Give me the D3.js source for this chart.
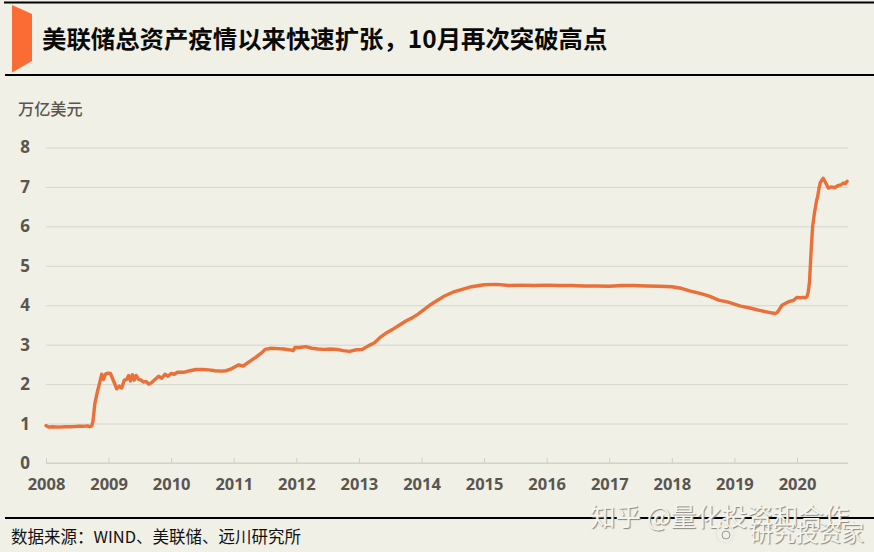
<!DOCTYPE html>
<html><head><meta charset="utf-8">
<script src="https://cdnjs.cloudflare.com/ajax/libs/d3/7.8.5/d3.min.js"></script>
<style>html,body{margin:0;padding:0;background:#f1f0e6;overflow:hidden}svg{display:block}text{font-family:"Noto Sans CJK SC","Noto Sans",sans-serif}.wm{fill:#f5f5f0;text-shadow:1px 1px 1px #85857f}</style>
</head><body><svg id="c" width="874" height="552"></svg>
<script>
const yearTicks=[2008,2009,2010,2011,2012,2013,2014,2015,2016,2017,2018,2019,2020];
const valueTicks=[0,1,2,3,4,5,6,7,8];
const titleText="美联储总资产疫情以来快速扩张，10月再次突破高点";
const unitText="万亿美元";
const sourceText="数据来源：WIND、美联储、远川研究所";
const times=[2008,2008.04,2008.1,2008.2,2008.3,2008.4,2008.5,2008.6,2008.66,2008.7,2008.73,2008.75,2008.78,2008.82,2008.86,2008.89,2008.92,2008.95,2008.98,2009.03,2009.08,2009.13,2009.17,2009.21,2009.25,2009.29,2009.32,2009.35,2009.38,2009.41,2009.44,2009.48,2009.52,2009.56,2009.6,2009.64,2009.68,2009.75,2009.8,2009.85,2009.9,2009.95,2010,2010.05,2010.1,2010.2,2010.3,2010.4,2010.5,2010.6,2010.7,2010.8,2010.88,2010.95,2011.02,2011.08,2011.15,2011.25,2011.35,2011.45,2011.5,2011.6,2011.7,2011.8,2011.9,2011.95,2011.98,2012.05,2012.15,2012.25,2012.35,2012.45,2012.55,2012.65,2012.75,2012.85,2012.95,2013.05,2013.15,2013.25,2013.35,2013.45,2013.55,2013.65,2013.75,2013.85,2013.95,2014.05,2014.15,2014.25,2014.35,2014.5,2014.65,2014.8,2015,2015.2,2015.4,2015.6,2015.8,2016,2016.2,2016.4,2016.6,2016.8,2017,2017.2,2017.4,2017.6,2017.8,2018,2018.15,2018.3,2018.45,2018.6,2018.75,2018.9,2019,2019.1,2019.25,2019.4,2019.55,2019.65,2019.68,2019.72,2019.76,2019.82,2019.88,2019.94,2020,2020.05,2020.1,2020.13,2020.16,2020.18,2020.2,2020.21,2020.23,2020.25,2020.28,2020.315,2020.33,2020.35,2020.37,2020.4,2020.42,2020.46,2020.5,2020.55,2020.6,2020.65,2020.7,2020.74,2020.77,2020.8];
const assets=[0.95,0.91,0.92,0.91,0.92,0.92,0.93,0.93,0.94,0.92,0.94,1.05,1.5,1.8,2.05,2.25,2.12,2.25,2.28,2.27,2.08,1.88,1.95,1.9,2.1,2.12,2.22,2.08,2.24,2.1,2.22,2.12,2.1,2.05,2.07,2.0,2.03,2.13,2.2,2.15,2.25,2.2,2.27,2.25,2.3,2.3,2.34,2.37,2.37,2.36,2.34,2.33,2.34,2.38,2.44,2.49,2.46,2.57,2.68,2.8,2.88,2.91,2.9,2.89,2.87,2.85,2.93,2.93,2.95,2.91,2.89,2.88,2.89,2.88,2.85,2.83,2.87,2.88,2.97,3.05,3.2,3.31,3.4,3.5,3.6,3.68,3.78,3.9,4.02,4.12,4.22,4.33,4.4,4.47,4.52,4.53,4.5,4.51,4.5,4.51,4.5,4.5,4.49,4.49,4.48,4.5,4.5,4.49,4.48,4.47,4.43,4.36,4.3,4.23,4.13,4.08,4.03,3.98,3.93,3.87,3.82,3.79,3.81,3.9,4.0,4.05,4.1,4.12,4.2,4.19,4.2,4.19,4.22,4.34,4.6,4.9,5.5,6.0,6.35,6.67,6.75,6.95,7.1,7.18,7.22,7.1,6.97,7.0,6.98,7.03,7.05,7.1,7.08,7.14,7.2];

const svg=d3.select("#c");
const x=d3.scaleLinear().domain([2008,2020]).range([46,797]);
const y=d3.scaleLinear().domain([0,8]).range([463,147.5]);
const ink="#595650";

svg.append("path").attr("d","M12 5L32 14V61L12 72.5Z").attr("fill","#fb6c34");
svg.append("line").attr("x1",4).attr("x2",874).attr("y1",2.5).attr("y2",2.5).attr("stroke","#000").attr("stroke-width",2);
svg.append("line").attr("x1",5).attr("x2",874).attr("y1",75).attr("y2",75).attr("stroke","#000").attr("stroke-width",2);
svg.append("line").attr("x1",5).attr("x2",874).attr("y1",518).attr("y2",518).attr("stroke","#000").attr("stroke-width",2);
svg.append("text").attr("x",42).attr("y",47.5).attr("font-size",24.4).attr("font-weight",700).attr("fill","#0a0a0a").text(titleText);
svg.append("text").attr("x",18).attr("y",115).attr("font-size",16.2).attr("font-weight",500).attr("fill",ink).text(unitText);
svg.append("text").attr("x",11).attr("y",543).attr("font-size",16.5).attr("fill","#111").text(sourceText);

const yAxis=d3.axisLeft(y).tickValues(valueTicks).tickSize(0).tickPadding(0).tickFormat(d3.format("d"));
const gy=svg.append("g").attr("transform","translate(46,0)").call(yAxis);
gy.select(".domain").remove();
gy.selectAll(".tick line").attr("x2",802).attr("stroke","#d6d6ce").attr("stroke-width",1);
gy.selectAll(".tick text").attr("x",-16).attr("font-size",17).attr("font-weight",700).attr("fill",ink).style("font-family","'Open Sans',sans-serif");

const xAxis=d3.axisBottom(x).tickValues(yearTicks).tickSize(5).tickPadding(10).tickFormat(d3.format("d"));
const gx=svg.append("g").attr("transform","translate(0,463)").call(xAxis);
gx.select(".domain").attr("d","M46 0H848").attr("stroke","#cfcfc7");
gx.selectAll(".tick line").attr("y1",0).attr("y2",-5).attr("stroke","#cfcfc7");
gx.selectAll(".tick text").attr("font-size",16.5).attr("font-weight",700).attr("fill",ink).style("font-family","'Open Sans',sans-serif");

const line=d3.line().x((d,i)=>x(times[i])).y(d=>y(d));
svg.append("path").attr("d",line(assets)).attr("fill","none").attr("stroke","#ea6f38").attr("stroke-width",3.4).attr("stroke-linejoin","round").attr("stroke-linecap","round");

// watermark
function mark(t,px,py,fs){
  svg.append("text").attr("class","wm").attr("font-size",fs).attr("x",px).attr("y",py).text(t);
}
mark("知乎 @量化投资和合作",590,526,25.5);
mark("研究投资家",750,541,22.8);
svg.append("circle").attr("cx",725).attr("cy",534).attr("r",9).attr("fill","none").attr("stroke","#e9e9e3").attr("stroke-width",2);
svg.append("circle").attr("cx",726).attr("cy",535).attr("r",4).attr("fill","none").attr("stroke","#9a9a94").attr("stroke-width",1);
</script></body></html>
